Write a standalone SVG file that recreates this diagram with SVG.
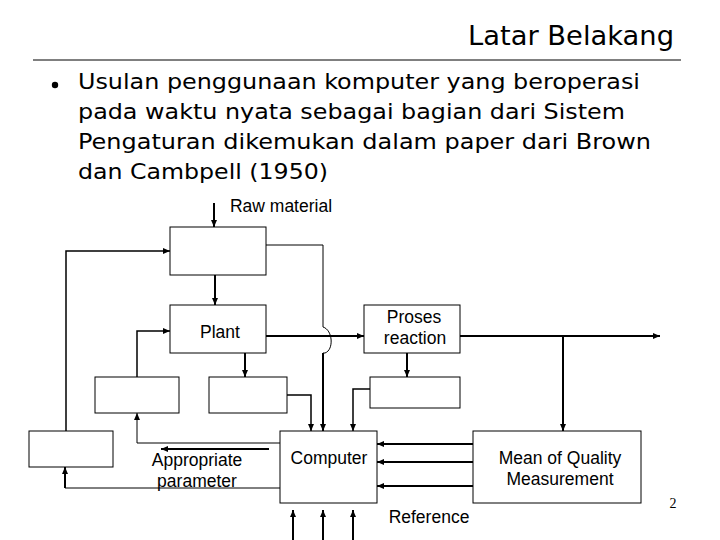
<svg xmlns="http://www.w3.org/2000/svg" width="720" height="540" viewBox="0 0 720 540">
<defs>
<marker id="ah" viewBox="0 0 7 6" refX="7" refY="3" markerWidth="7" markerHeight="6" markerUnits="userSpaceOnUse" orient="auto">
<path d="M0,0 L7,3 L0,6 z" fill="#000"/>
</marker>
<style>
.box{fill:#fff;stroke:#000;stroke-width:1}
.lbl{font-family:"Liberation Sans",Arial,sans-serif;font-size:17.5px;fill:#000;text-anchor:middle}
.hd{font-family:"DejaVu Sans",Tahoma,Verdana,sans-serif;fill:#000}
.c{fill:none;stroke:#000}
.t{stroke-width:2}
.n{stroke-width:1}
.m{stroke-width:1.5}
.a{marker-end:url(#ah)}
</style>
</defs>
<rect width="720" height="540" fill="#fff"/>
<g id="header">
<text class="hd" x="674" y="45" font-size="27" text-anchor="end" textLength="206" lengthAdjust="spacingAndGlyphs">Latar Belakang</text>
<line x1="33" y1="60" x2="681" y2="60" stroke="#000" stroke-width="1"/>
<circle cx="55" cy="85" r="3.2" fill="#000"/>
<text class="hd" font-size="22" x="78" y="89" textLength="562" lengthAdjust="spacingAndGlyphs">Usulan penggunaan komputer yang beroperasi</text>
<text class="hd" font-size="22" x="78" y="119" textLength="547" lengthAdjust="spacingAndGlyphs">pada waktu nyata sebagai bagian dari Sistem</text>
<text class="hd" font-size="22" x="78" y="149" textLength="573" lengthAdjust="spacingAndGlyphs">Pengaturan dikemukan dalam paper dari Brown</text>
<text class="hd" font-size="22" x="78" y="179" textLength="250" lengthAdjust="spacingAndGlyphs">dan Cambpell (1950)</text>
</g>
<g id="connectors">
<path class="c t a" d="M214,203 V227"/>
<path class="c m a" d="M66,431 V251 H170"/>
<path class="c t a" d="M215,275 V305"/>
<path class="c m a" d="M137,377 V331 H170"/>
<path class="c t a" d="M266,336 H364"/>
<path class="c n" d="M266,245 H323 V327 C333,330 334,350 325,353 H323"/>
<path class="c t a" d="M323,353 V431"/>
<path class="c t a" d="M460,336 H660"/>
<path class="c t a" d="M563,336 V431"/>
<path class="c t a" d="M245,353 V377"/>
<path class="c t a" d="M407,353 V377"/>
<path class="c m a" d="M287,395 H311 V431"/>
<path class="c m a" d="M370,389 H353 V431"/>
<path class="c t a" d="M473,444 H377"/>
<path class="c t a" d="M473,462 H377"/>
<path class="c t a" d="M473,486 H377"/>
<path class="c n a" d="M280,443 H137 V413"/>
<path class="c t a" d="M269,449 H161"/>
<path class="c n" d="M280,488 H65"/>
<path class="c t a" d="M65,488 V467"/>
<path class="c t a" d="M293,540 V510"/>
<path class="c t a" d="M323,540 V510"/>
<path class="c t a" d="M353,540 V510"/>
</g>
<g id="raw-material"><text class="lbl" x="281" y="212">Raw material</text></g>
<g id="top-box"><rect class="box" x="170" y="227" width="96" height="48"/></g>
<g id="plant"><rect class="box" x="170" y="305" width="96" height="48"/><text class="lbl" x="220" y="338">Plant</text></g>
<g id="proses"><rect class="box" x="364" y="305" width="96" height="48"/><text class="lbl" x="414" y="323">Proses</text><text class="lbl" x="415" y="344">reaction</text></g>
<g id="box1"><rect class="box" x="29" y="431" width="84" height="36"/></g>
<g id="box2"><rect class="box" x="95" y="377" width="84" height="36"/></g>
<g id="box3"><rect class="box" x="209" y="377" width="78" height="36"/></g>
<g id="box4"><rect class="box" x="370" y="377" width="90" height="31"/></g>
<g id="computer"><rect class="box" x="280" y="431" width="97" height="72"/><text class="lbl" x="329" y="464">Computer</text></g>
<g id="mean"><rect class="box" x="473" y="431" width="168" height="72"/><text class="lbl" x="560" y="464">Mean of Quality</text><text class="lbl" x="560" y="485">Measurement</text></g>
<g id="appropriate"><text class="lbl" x="197" y="466">Appropriate</text><text class="lbl" x="197" y="487">parameter</text></g>
<g id="reference"><text class="lbl" x="429" y="523">Reference</text></g>
<g id="page"><text x="673" y="508" font-family="Liberation Serif, serif" font-size="14" text-anchor="middle">2</text></g>
</svg>
